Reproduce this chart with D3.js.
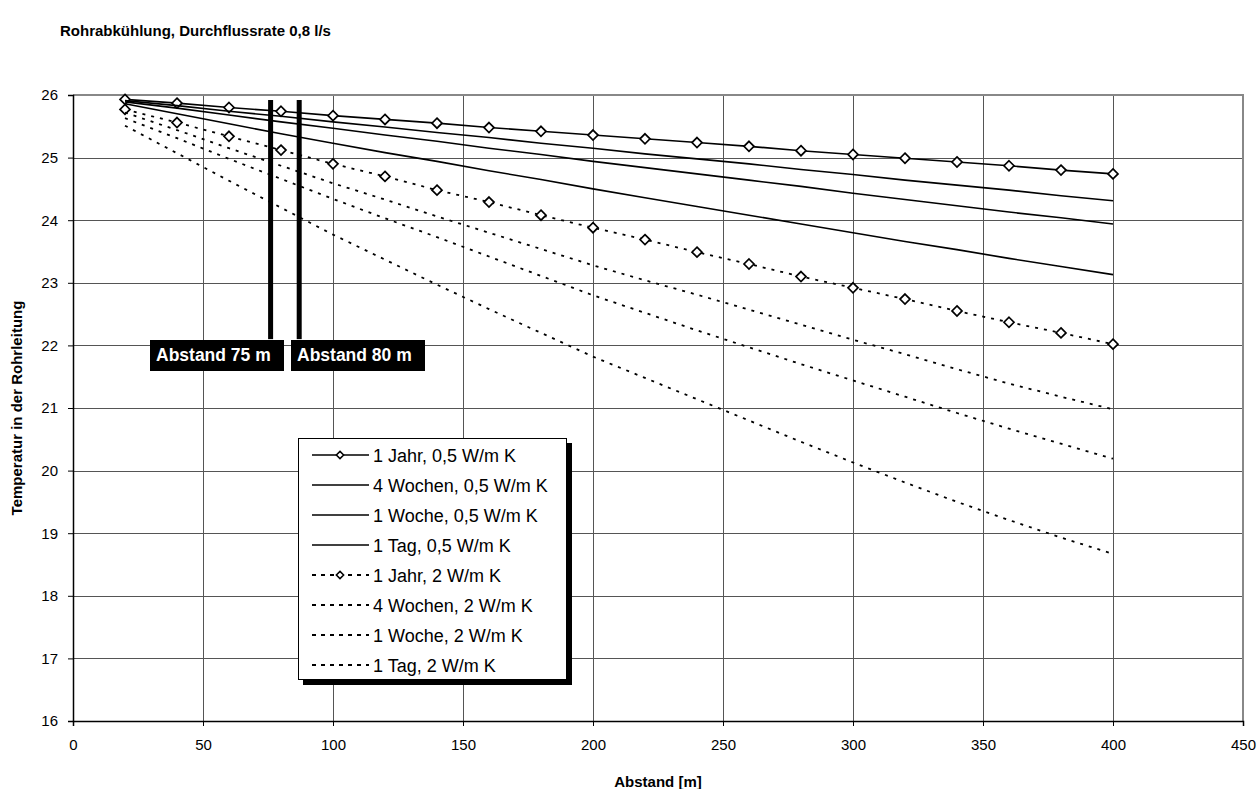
<!DOCTYPE html>
<html>
<head>
<meta charset="utf-8">
<script src="https://cdnjs.cloudflare.com/ajax/libs/d3/7.8.5/d3.min.js"></script>
<style>
  body { margin: 0; background: #fff; }
  text { font-family: "Liberation Sans", Arial, sans-serif; }
</style>
</head>
<body>
<div id="chart"></div>
<script>
// distance along the pipe [m]
var distances = [20, 40, 60, 80, 100, 120, 140, 160, 180, 200, 220, 240, 260, 280, 300, 320, 340, 360, 380, 400];

// temperature in the pipe, 0,5 W/m K
var jahr05   = [25.93, 25.87, 25.80, 25.74, 25.67, 25.61, 25.55, 25.48, 25.42, 25.36, 25.30, 25.24, 25.18, 25.11, 25.05, 24.99, 24.93, 24.87, 24.80, 24.74];
var wochen05 = [25.91, 25.83, 25.74, 25.66, 25.57, 25.49, 25.40, 25.32, 25.23, 25.15, 25.06, 24.98, 24.90, 24.81, 24.73, 24.64, 24.56, 24.48, 24.39, 24.31];
var woche05  = [25.89, 25.79, 25.68, 25.57, 25.47, 25.36, 25.26, 25.15, 25.05, 24.94, 24.84, 24.74, 24.64, 24.54, 24.43, 24.33, 24.23, 24.13, 24.04, 23.94];
var tag05    = [25.86, 25.70, 25.54, 25.38, 25.23, 25.08, 24.94, 24.79, 24.65, 24.50, 24.36, 24.22, 24.08, 23.94, 23.80, 23.66, 23.53, 23.39, 23.26, 23.13];

// temperature in the pipe, 2 W/m K
var jahr2    = [25.77, 25.56, 25.34, 25.12, 24.90, 24.70, 24.48, 24.29, 24.08, 23.88, 23.69, 23.49, 23.30, 23.10, 22.92, 22.74, 22.55, 22.37, 22.20, 22.02];
var wochen2  = [25.72, 25.44, 25.15, 24.87, 24.59, 24.33, 24.06, 23.80, 23.54, 23.28, 23.04, 22.81, 22.57, 22.33, 22.09, 21.86, 21.62, 21.39, 21.18, 20.98];
var woche2   = [25.63, 25.31, 24.98, 24.66, 24.34, 24.03, 23.73, 23.42, 23.11, 22.80, 22.52, 22.24, 21.97, 21.70, 21.44, 21.18, 20.92, 20.67, 20.43, 20.19];
var tag2     = [25.51, 25.07, 24.63, 24.20, 23.77, 23.37, 22.97, 22.58, 22.20, 21.82, 21.48, 21.14, 20.80, 20.46, 20.13, 19.81, 19.50, 19.21, 18.93, 18.67];

var seriesNames = ["1 Jahr, 0,5 W/m K", "4 Wochen, 0,5 W/m K", "1 Woche, 0,5 W/m K", "1 Tag, 0,5 W/m K",
                   "1 Jahr, 2 W/m K", "4 Wochen, 2 W/m K", "1 Woche, 2 W/m K", "1 Tag, 2 W/m K"];
var seriesValues = [jahr05, wochen05, woche05, tag05, jahr2, wochen2, woche2, tag2];

var xTicks = [0, 50, 100, 150, 200, 250, 300, 350, 400, 450];
var yTicks = [16, 17, 18, 19, 20, 21, 22, 23, 24, 25, 26];

// annotation bars (distance, temperature range) and their labels
var markNames = ["Abstand 75 m", "Abstand 80 m"];
var markX = [76, 87];
var markTop = 25.92;
var markBottom = 22.1;

var W = 1260, H = 789;
var pL = 73, pR = 1243, pT = 95, pB = 721;

var svg = d3.select("#chart").append("svg")
  .attr("width", W)
  .attr("height", H);

var x = d3.scaleLinear().domain([0, 450]).range([pL, pR]);
var y = d3.scaleLinear().domain([16, 26]).range([pB, pT]);

// title
svg.append("text")
  .attr("x", 60).attr("y", 36)
  .attr("font-size", 15).attr("font-weight", "bold")
  .text("Rohrabkühlung, Durchflussrate 0,8 l/s");

// grid
svg.append("g").selectAll("line")
  .data(yTicks.slice(1))
  .enter().append("line")
  .attr("x1", pL).attr("x2", pR)
  .attr("y1", d => Math.round(y(d)) + 0.5).attr("y2", d => Math.round(y(d)) + 0.5)
  .attr("stroke", "#555").attr("stroke-width", 1);
svg.append("g").selectAll("line")
  .data(xTicks.slice(1))
  .enter().append("line")
  .attr("y1", pT).attr("y2", pB)
  .attr("x1", d => Math.round(x(d)) + 0.5).attr("x2", d => Math.round(x(d)) + 0.5)
  .attr("stroke", "#555").attr("stroke-width", 1);

// plot frame (top and right in grey)
svg.append("path")
  .attr("d", "M" + pL + "," + pT + "H" + pR + "V" + pB)
  .attr("fill", "none").attr("stroke", "#888").attr("stroke-width", 2);

// axes
var yAxis = svg.append("g")
  .attr("transform", "translate(" + pL + ",0)")
  .call(d3.axisLeft(y).tickValues(yTicks).tickSize(5).tickPadding(10).tickFormat(d3.format("d")));
var xAxis = svg.append("g")
  .attr("transform", "translate(0," + pB + ")")
  .call(d3.axisBottom(x).tickValues(xTicks).tickSize(5).tickPadding(13).tickFormat(d3.format("d")));
[xAxis, yAxis].forEach(function (ax) {
  ax.selectAll("text").attr("font-size", 15).attr("fill", "#000")
    .attr("font-family", "'Liberation Sans', Arial, sans-serif");
  ax.selectAll("line").attr("stroke", "#000");
  ax.select(".domain").attr("stroke", "#000").attr("stroke-width", 1.5);
});

// axis titles
svg.append("text")
  .attr("x", (pL + pR) / 2).attr("y", 787)
  .attr("text-anchor", "middle")
  .attr("font-size", 15).attr("font-weight", "bold")
  .text("Abstand [m]");
svg.append("text")
  .attr("transform", "translate(22," + (pT + pB) / 2 + ") rotate(-90)")
  .attr("text-anchor", "middle")
  .attr("font-size", 15).attr("font-weight", "bold")
  .text("Temperatur in der Rohrleitung");

// series
var line = d3.line()
  .x((d, i) => x(distances[i]))
  .y(d => y(d));

var diamond = d3.symbol().type(d3.symbolDiamond2);

seriesValues.forEach(function (vals, s) {
  var dashed = s >= 4;
  svg.append("path")
    .datum(vals)
    .attr("d", line)
    .attr("fill", "none")
    .attr("stroke", "#000")
    .attr("stroke-width", dashed ? 1.8 : 1.6)
    .attr("stroke-dasharray", dashed ? "3,6" : null);
  if (s % 4 === 0) {
    svg.append("g").selectAll("path")
      .data(vals)
      .enter().append("path")
      .attr("d", diamond.size(64))
      .attr("transform", (d, i) => "translate(" + x(distances[i]) + "," + y(d) + ")")
      .attr("fill", "#fff")
      .attr("stroke", "#000")
      .attr("stroke-width", 1.7);
  }
});

// annotation bars
svg.append("g").selectAll("rect")
  .data(markX)
  .enter().append("rect")
  .attr("x", d => x(d) - 2.5)
  .attr("y", y(markTop))
  .attr("width", 5)
  .attr("height", y(markBottom) - y(markTop))
  .attr("fill", "#000");

var labelBoxes = [[150, 284], [291, 425]];
markNames.forEach(function (name, i) {
  svg.append("rect")
    .attr("x", labelBoxes[i][0]).attr("y", 340)
    .attr("width", labelBoxes[i][1] - labelBoxes[i][0]).attr("height", 31)
    .attr("fill", "#000");
  svg.append("text")
    .attr("x", labelBoxes[i][0] + 6).attr("y", 361)
    .attr("font-size", 17.5).attr("font-weight", "bold")
    .attr("fill", "#fff")
    .text(name);
});

// legend
var lg = svg.append("g");
lg.append("rect")
  .attr("x", 303).attr("y", 443).attr("width", 269).attr("height", 242)
  .attr("fill", "#000");
lg.append("rect")
  .attr("x", 298.5).attr("y", 438.5).attr("width", 268).attr("height", 241)
  .attr("fill", "#fff").attr("stroke", "#000").attr("stroke-width", 1);

seriesNames.forEach(function (name, s) {
  var cy = 455 + s * 30;
  var dashed = s >= 4;
  lg.append("line")
    .attr("x1", 312).attr("x2", 369)
    .attr("y1", cy).attr("y2", cy)
    .attr("stroke", "#000")
    .attr("stroke-width", dashed ? 1.8 : 1.6)
    .attr("stroke-dasharray", dashed ? "4,5" : null);
  if (s % 4 === 0) {
    lg.append("path")
      .attr("d", diamond.size(34))
      .attr("transform", "translate(340," + cy + ")")
      .attr("fill", "#fff").attr("stroke", "#000").attr("stroke-width", 1.5);
  }
  lg.append("text")
    .attr("x", 373).attr("y", cy + 6.5)
    .attr("font-size", 18)
    .text(name);
});
</script>
</body>
</html>
